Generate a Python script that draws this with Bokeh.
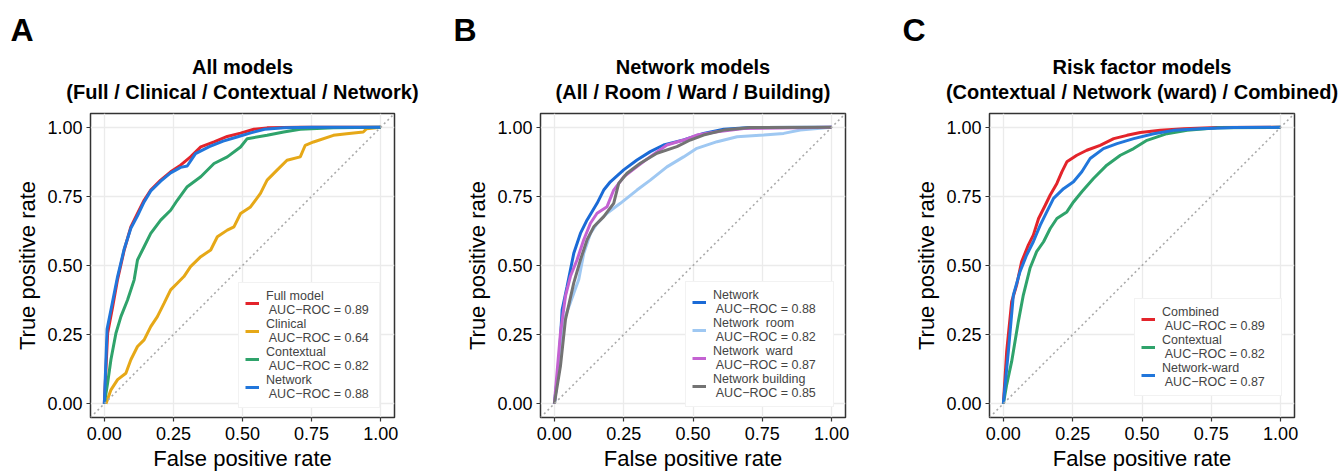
from bokeh.plotting import figure
from bokeh.layouts import row
from bokeh.models import Range1d, FixedTicker, Title, Slope
from bokeh.embed import file_html
from bokeh.resources import INLINE

FONT = "Liberation Sans"

ticks = [0.0, 0.25, 0.5, 0.75, 1.0]
tick_labels = ["0.00", "0.25", "0.50", "0.75", "1.00"]

# ---------------- Panel A: All models ----------------
a_full_fpr = [0, 0.012, 0.03, 0.048, 0.072, 0.096, 0.12, 0.144, 0.168, 0.204, 0.24, 0.276, 0.312, 0.349, 0.397, 0.445, 0.493, 0.541, 0.589, 0.709, 1.0]
a_full_tpr = [0, 0.255, 0.35, 0.45, 0.556, 0.64, 0.688, 0.736, 0.773, 0.809, 0.839, 0.863, 0.893, 0.929, 0.947, 0.967, 0.979, 0.993, 0.998, 1.0, 1.0]
a_clin_fpr = [0.006, 0.024, 0.048, 0.078, 0.096, 0.12, 0.144, 0.168, 0.192, 0.216, 0.24, 0.264, 0.288, 0.312, 0.349, 0.385, 0.409, 0.445, 0.469, 0.493, 0.529, 0.565, 0.589, 0.625, 0.661, 0.709, 0.727, 0.757, 0.829, 0.877, 0.937, 0.949, 1.0]
a_clin_tpr = [0, 0.05, 0.087, 0.11, 0.159, 0.207, 0.231, 0.279, 0.315, 0.363, 0.412, 0.436, 0.46, 0.496, 0.532, 0.556, 0.604, 0.628, 0.64, 0.688, 0.712, 0.761, 0.809, 0.845, 0.881, 0.893, 0.935, 0.947, 0.971, 0.977, 0.983, 0.995, 1.0]
a_ctx_fpr = [0, 0.012, 0.024, 0.042, 0.06, 0.084, 0.108, 0.12, 0.144, 0.168, 0.204, 0.24, 0.264, 0.30, 0.349, 0.397, 0.445, 0.493, 0.517, 0.589, 0.649, 0.709, 0.829, 1.0]
a_ctx_tpr = [0, 0.075, 0.16, 0.255, 0.315, 0.375, 0.448, 0.52, 0.568, 0.616, 0.664, 0.70, 0.736, 0.785, 0.821, 0.869, 0.893, 0.929, 0.959, 0.971, 0.983, 0.993, 0.998, 1.0]
a_net_fpr = [0, 0.01, 0.03, 0.048, 0.072, 0.096, 0.12, 0.144, 0.168, 0.204, 0.24, 0.276, 0.30, 0.33, 0.38, 0.43, 0.48, 0.53, 0.58, 0.65, 0.75, 1.0]
a_net_tpr = [0, 0.27, 0.37, 0.46, 0.56, 0.635, 0.68, 0.73, 0.77, 0.805, 0.835, 0.855, 0.86, 0.905, 0.93, 0.95, 0.965, 0.98, 0.993, 0.998, 1.0, 1.0]

# ---------------- Panel B: Network models ----------------
b_net_fpr = [0, 0.016, 0.028, 0.046, 0.07, 0.094, 0.118, 0.154, 0.178, 0.202, 0.25, 0.298, 0.346, 0.394, 0.466, 0.538, 0.611, 0.707, 1.0]
b_net_tpr = [0, 0.136, 0.34, 0.425, 0.544, 0.616, 0.665, 0.725, 0.773, 0.803, 0.846, 0.882, 0.912, 0.936, 0.954, 0.978, 0.993, 0.999, 1.0]
b_room_fpr = [0, 0.022, 0.04, 0.07, 0.088, 0.106, 0.13, 0.154, 0.19, 0.238, 0.298, 0.346, 0.406, 0.466, 0.514, 0.587, 0.659, 0.755, 0.827, 0.887, 1.0]
b_room_tpr = [0, 0.196, 0.316, 0.40, 0.449, 0.544, 0.616, 0.652, 0.689, 0.725, 0.773, 0.809, 0.857, 0.893, 0.924, 0.948, 0.966, 0.972, 0.978, 0.99, 1.0]
b_ward_fpr = [0, 0.022, 0.04, 0.058, 0.082, 0.106, 0.13, 0.154, 0.19, 0.214, 0.25, 0.298, 0.346, 0.406, 0.466, 0.514, 0.587, 0.683, 1.0]
b_ward_tpr = [0, 0.256, 0.389, 0.461, 0.521, 0.593, 0.653, 0.689, 0.713, 0.773, 0.821, 0.858, 0.894, 0.936, 0.954, 0.972, 0.984, 0.996, 1.0]
b_bld_fpr = [0, 0.022, 0.04, 0.07, 0.094, 0.118, 0.142, 0.178, 0.214, 0.232, 0.262, 0.31, 0.37, 0.442, 0.49, 0.538, 0.611, 0.707, 1.0]
b_bld_tpr = [0, 0.136, 0.304, 0.437, 0.52, 0.593, 0.64, 0.677, 0.725, 0.797, 0.834, 0.87, 0.906, 0.93, 0.954, 0.972, 0.99, 0.999, 1.0]

# ---------------- Panel C: Risk factor models ----------------
c_comb_fpr = [0, 0.012, 0.03, 0.048, 0.066, 0.09, 0.108, 0.127, 0.151, 0.169, 0.193, 0.211, 0.229, 0.265, 0.301, 0.349, 0.398, 0.446, 0.494, 0.566, 0.651, 0.771, 1.0]
c_comb_tpr = [0, 0.189, 0.369, 0.43, 0.514, 0.574, 0.61, 0.67, 0.718, 0.755, 0.797, 0.839, 0.875, 0.899, 0.917, 0.935, 0.959, 0.971, 0.981, 0.989, 0.995, 0.999, 1.0]
c_ctx_fpr = [0, 0.012, 0.03, 0.054, 0.072, 0.096, 0.12, 0.145, 0.169, 0.193, 0.229, 0.253, 0.283, 0.325, 0.373, 0.422, 0.47, 0.518, 0.59, 0.663, 0.771, 1.0]
c_ctx_tpr = [0, 0.069, 0.153, 0.297, 0.393, 0.49, 0.55, 0.586, 0.634, 0.67, 0.694, 0.73, 0.767, 0.815, 0.863, 0.899, 0.923, 0.953, 0.977, 0.989, 0.998, 1.0]
c_ward_fpr = [0, 0.018, 0.036, 0.06, 0.084, 0.108, 0.133, 0.157, 0.181, 0.217, 0.253, 0.283, 0.313, 0.361, 0.41, 0.47, 0.542, 0.614, 0.711, 0.831, 1.0]
c_ward_tpr = [0, 0.189, 0.393, 0.478, 0.538, 0.586, 0.646, 0.695, 0.743, 0.778, 0.803, 0.839, 0.887, 0.923, 0.941, 0.959, 0.977, 0.989, 0.995, 0.999, 1.0]

RED = "#E3242B"
GOLD = "#E6A817"
GREEN = "#2FA36B"
BLUE = "#2176DB"
BLUE_B = "#1A6AD6"
LIGHTBLUE = "#9FC8F2"
MAGENTA = "#C462D2"
GREY = "#737373"

panels = [
    dict(letter="A", t1="All models", t2="(Full / Clinical / Contextual / Network)",
         width=450, left=90, right=56, leg=(148, 9), loff=-80, lw=107,
         curves=[(a_full_fpr, a_full_tpr, RED, "Full model\n AUC\u2212ROC = 0.89"),
                 (a_clin_fpr, a_clin_tpr, GOLD, "Clinical\n AUC\u2212ROC = 0.64"),
                 (a_ctx_fpr, a_ctx_tpr, GREEN, "Contextual\n AUC\u2212ROC = 0.82"),
                 (a_net_fpr, a_net_tpr, BLUE, "Network\n AUC\u2212ROC = 0.88")]),
    dict(letter="B", t1="Network models", t2="(All / Room / Ward / Building)",
         width=450, left=90, right=55, leg=(145, 10), loff=-87, lw=114,
         curves=[(b_net_fpr, b_net_tpr, BLUE_B, "Network\n AUC\u2212ROC = 0.88"),
                 (b_room_fpr, b_room_tpr, LIGHTBLUE, "Network  room\n AUC\u2212ROC = 0.82"),
                 (b_ward_fpr, b_ward_tpr, MAGENTA, "Network  ward\n AUC\u2212ROC = 0.87"),
                 (b_bld_fpr, b_bld_tpr, GREY, "Network building\n AUC\u2212ROC = 0.85")]),
    dict(letter="C", t1="Risk factor models", t2="(Contextual / Network (ward) / Combined)",
         width=443, left=89, right=49, leg=(145, 21), loff=-87, lw=113,
         curves=[(c_comb_fpr, c_comb_tpr, RED, "Combined\n AUC\u2212ROC = 0.89"),
                 (c_ctx_fpr, c_ctx_tpr, GREEN, "Contextual\n AUC\u2212ROC = 0.82"),
                 (c_ward_fpr, c_ward_tpr, BLUE, "Network-ward\n AUC\u2212ROC = 0.87")]),
]


def make_title(text, standoff, valign):
    try:
        return Title(text=text, align="center", vertical_align=valign, text_font=FONT,
                     text_font_size="20px", text_font_style="bold", text_color="black",
                     standoff=standoff)
    except Exception:
        return Title(text=text, align="center", vertical_align=valign, text_font=FONT,
                     text_font_size="20px", text_font_style="bold", text_color="black",
                     standoff=0)


figs = []
for pd_ in panels:
    p = figure(width=pd_["width"], height=473, output_backend="svg", toolbar_location=None,
               x_range=Range1d(-0.05, 1.05), y_range=Range1d(-0.05, 1.05),
               min_border_left=pd_["left"], min_border_right=pd_["right"],
               min_border_top=113, min_border_bottom=10)
    p.title.visible = False
    p.add_layout(make_title(pd_["t2"], 18, "top"), "above")
    p.add_layout(make_title(pd_["t1"], -12, "bottom"), "above")
    p.add_layout(Title(text=pd_["letter"], align="left", offset=pd_["loff"], vertical_align="top",
                       text_font=FONT, text_font_size="32px", text_font_style="bold",
                       text_color="black", standoff=20), "above")

    p.background_fill_color = "white"
    p.border_fill_color = "white"
    p.outline_line_color = "#333333"
    p.outline_line_width = 1.5

    for ax in (p.xaxis, p.yaxis):
        ax.ticker = FixedTicker(ticks=ticks)
        ax.major_label_overrides = {t: l for t, l in zip(ticks, tick_labels)}
        ax.axis_line_color = None
        ax.major_tick_line_color = "#333333"
        ax.major_tick_line_width = 1.2
        ax.major_tick_out = 4
        ax.major_tick_in = 0
        ax.minor_tick_line_color = None
        ax.major_label_text_font = FONT
        ax.major_label_text_font_size = "18px"
        ax.major_label_text_color = "black"
        ax.axis_label_text_font = FONT
        ax.axis_label_text_font_size = "22px"
        ax.axis_label_text_font_style = "normal"
        ax.axis_label_text_color = "black"
    p.xaxis.major_label_standoff = 5
    p.xaxis.axis_label_standoff = 3
    p.yaxis.major_label_standoff = 4
    p.yaxis.axis_label_standoff = 4
    p.xaxis.axis_label = "False positive rate"
    p.yaxis.axis_label = "True positive rate"
    p.yaxis.major_label_orientation = "horizontal"

    p.grid.ticker = FixedTicker(ticks=ticks)
    p.grid.grid_line_color = "#EBEBEB"
    p.grid.grid_line_width = 1.3

    p.add_layout(Slope(gradient=1, y_intercept=0, line_color="#AAAAAA", line_width=1.6, line_dash="2 3"))

    for fx, fy, col, lab in pd_["curves"]:
        p.line(fx, fy, line_color=col, line_width=3, legend_label=lab)

    lg = p.legend[0]
    lg.location = pd_["leg"]
    lg.label_text_font = FONT
    lg.label_text_font_size = "12.5px"
    lg.label_height = 20
    lg.label_width = pd_["lw"]
    lg.label_standoff = 7
    lg.glyph_width = 14
    lg.glyph_height = 20
    lg.spacing = 0
    lg.padding = 6
    lg.margin = 0
    lg.border_line_color = "#E6E6E6"
    lg.border_line_width = 1
    lg.background_fill_color = "white"
    lg.background_fill_alpha = 1.0
    figs.append(p)

layout = row(*figs, spacing=0)
open("out.html", "w").write(file_html(layout, INLINE))
